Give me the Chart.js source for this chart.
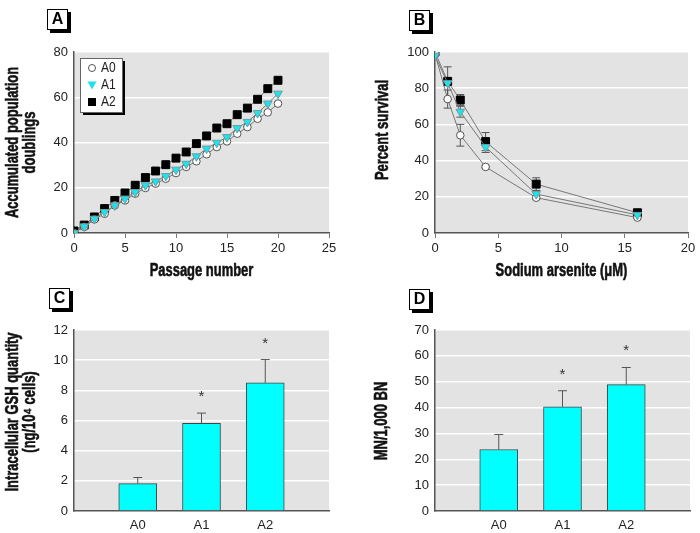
<!DOCTYPE html>
<html>
<head>
<meta charset="utf-8">
<script src="https://cdn.jsdelivr.net/npm/chart.js@4.4.0/dist/chart.umd.min.js"></script>
<style>
  body { margin: 0; background: #fff; width: 700px; height: 533px; position: relative; overflow: hidden; }
  .pane { position: absolute; }
  .tag {
    position: absolute; width: 19px; height: 19px; border: 1px solid #000;
    box-shadow: 3px 3px 0 #000; background: #fff; text-align: center; line-height: 19px;
    font: bold 16px "Liberation Sans", sans-serif;
  }
</style>
</head>
<body>
<canvas id="chartA" class="pane" width="350" height="285" style="left:0;top:0"></canvas>
<canvas id="chartB" class="pane" width="350" height="285" style="left:350px;top:0"></canvas>
<canvas id="chartC" class="pane" width="350" height="253" style="left:0;top:280px"></canvas>
<canvas id="chartD" class="pane" width="350" height="253" style="left:350px;top:280px"></canvas>
<div class="tag" style="left:47px;top:9px">A</div>
<div class="tag" style="left:409px;top:10px">B</div>
<div class="tag" style="left:49px;top:288px">C</div>
<div class="tag" style="left:409px;top:289px">D</div>

<script>
// panel A: population doublings per passage
const passages = [0, 1, 2, 3, 4, 5, 6, 7, 8, 9, 10, 11, 12, 13, 14, 15, 16, 17, 18, 19, 20];
const growthA0 = [0, 2.7, 6.0, 8.5, 12.2, 14.4, 17.4, 19.9, 21.8, 24.0, 26.5, 29.2, 31.7, 34.8, 38.0, 40.5, 43.9, 46.8, 50.5, 53.3, 57.2];
const growthA1 = [0, 2.9, 6.3, 9.3, 12.2, 15.2, 18.1, 21.1, 22.8, 25.2, 28.0, 30.6, 33.9, 37.3, 39.9, 42.4, 46.4, 49.1, 53.0, 57.2, 61.6];
const growthA2 = [0.9, 3.5, 7.1, 10.8, 14.4, 17.7, 21.1, 24.5, 27.4, 30.2, 33.1, 35.8, 39.5, 42.9, 46.4, 48.3, 52.3, 55.2, 59.1, 63.8, 67.5];

// panel B: survival vs sodium arsenite
const doses = [0, 1, 2, 4, 8, 16];
const survA0 = [99, 74, 54, 36.5, 19.5, 8.5];
const survA1 = [98, 82.8, 67, 47.5, 21.5, 10];
const survA2 = [100, 83.8, 73.5, 50.5, 27, 11.2];
const survErrA0 = [0, 5, 6, 0.5, 1, 0.5];
const survErrA1 = [0, 9, 3, 3, 2, 0.5];
const survErrA2 = [0, 2, 3, 5, 3.5, 1];

// panels C and D: bars per cell line
const lines = ['A0', 'A1', 'A2'];
const gsh = [1.82, 5.82, 8.49];
const gshErr = [0.4, 0.67, 1.55];
const mn = [23.8, 40.3, 48.9];
const mnErr = [5.8, 6.2, 6.6];
const significant = [false, true, true];

const FONT = '"Liberation Sans", Arial, sans-serif';
const TICK_FONT = { family: FONT, size: 13 };

Chart.defaults.color = '#222';
Chart.defaults.font.family = FONT;

const plotBg = {
  id: 'plotBg',
  beforeDraw(chart) {
    const { ctx, chartArea: a } = chart;
    ctx.save();
    ctx.fillStyle = '#e3e3e3';
    ctx.fillRect(a.left, a.top, a.right - a.left, a.bottom - a.top);
    ctx.restore();
  }
};
Chart.register(plotBg);

// axis titles squeezed horizontally to mimic the condensed bold face
function condText(ctx, text) {
  ctx.scale(0.72, 1);
  ctx.strokeText(text, 0, 0);
  ctx.fillText(text, 0, 0);
}

const condTitles = {
  id: 'condTitles',
  afterDraw(chart, args, opts) {
    const ctx = chart.ctx, a = chart.chartArea;
    ctx.save();
    ctx.fillStyle = '#111';
    ctx.strokeStyle = '#111';
    ctx.lineWidth = 0.6;
    ctx.font = 'bold 18px ' + FONT;
    ctx.textAlign = 'center';
    ctx.textBaseline = 'middle';
    if (opts.x) {
      ctx.save();
      ctx.translate((a.left + a.right) / 2, opts.xY);
      condText(ctx, opts.x);
      ctx.restore();
    }
    if (opts.y) {
      const cy = opts.yC || (a.top + a.bottom) / 2;
      opts.y.forEach((line, i) => {
        ctx.save();
        ctx.translate(opts.yX[i], cy);
        ctx.rotate(-Math.PI / 2);
        condText(ctx, line);
        ctx.restore();
      });
    }
    ctx.restore();
  }
};
Chart.register(condTitles);

function drawErr(chart, opts) {
  const ctx = chart.ctx, y = chart.scales.y;
  const cap = opts.cap || 4;
  ctx.save();
  ctx.strokeStyle = '#555';
  ctx.lineWidth = 1;
  ctx.fillStyle = '#333';
  ctx.font = '15px ' + FONT;
  ctx.textAlign = 'center';
  opts.errors.forEach((errs, di) => {
    const meta = chart.getDatasetMeta(di);
    const vals = chart.data.datasets[di].data;
    meta.data.forEach((el, i) => {
      let v = vals[i];
      if (v && typeof v === 'object') v = v.y;
      const e = errs[i];
      if (v == null || !e) return;
      const top = y.getPixelForValue(v + e);
      const bot = opts.upOnly ? y.getPixelForValue(v) : y.getPixelForValue(v - e);
      ctx.beginPath();
      ctx.moveTo(el.x, bot); ctx.lineTo(el.x, top);
      ctx.moveTo(el.x - cap, top); ctx.lineTo(el.x + cap, top);
      if (!opts.upOnly) { ctx.moveTo(el.x - cap, bot); ctx.lineTo(el.x + cap, bot); }
      ctx.stroke();
      if (opts.stars && opts.stars[i]) ctx.fillText('*', el.x, top - 12);
    });
  });
  ctx.restore();
}

const errorBars = {
  id: 'errorBars',
  beforeDatasetsDraw(chart, args, opts) { if (opts.behind) drawErr(chart, opts); },
  afterDatasetsDraw(chart, args, opts) { if (!opts.behind) drawErr(chart, opts); }
};

// legend box drawn inside panel A
const insetLegend = {
  id: 'insetLegend',
  afterDraw(chart) {
    const ctx = chart.ctx, a = chart.chartArea;
    const x = a.left + 6, y = a.top + 6, w = 42, h = 54;
    ctx.save();
    ctx.fillStyle = '#000';
    ctx.fillRect(x + 3, y + 3, w, h);
    ctx.fillStyle = '#fff';
    ctx.fillRect(x, y, w, h);
    ctx.strokeStyle = '#666';
    ctx.lineWidth = 1;
    ctx.strokeRect(x + 0.5, y + 0.5, w, h);
    ctx.font = '15px ' + FONT;
    ctx.textBaseline = 'middle';
    const rows = [y + 10, y + 27, y + 44];
    const mx = x + 12;
    // A0 circle
    ctx.beginPath(); ctx.arc(mx, rows[0], 3.5, 0, Math.PI * 2);
    ctx.fillStyle = '#fff'; ctx.fill(); ctx.strokeStyle = '#555'; ctx.stroke();
    // A1 triangle (down)
    ctx.beginPath(); ctx.moveTo(mx - 4.5, rows[1] - 3.5); ctx.lineTo(mx + 4.5, rows[1] - 3.5); ctx.lineTo(mx, rows[1] + 4.5); ctx.closePath();
    ctx.fillStyle = '#1ee3ec'; ctx.fill();
    // A2 square
    ctx.fillStyle = '#000'; ctx.fillRect(mx - 4, rows[2] - 4, 8, 8);
    ctx.fillStyle = '#222';
    ctx.save(); ctx.translate(x + 21, 0); ctx.scale(0.8, 1);
    ctx.fillText('A0', 0, rows[0]);
    ctx.fillText('A1', 0, rows[1]);
    ctx.fillText('A2', 0, rows[2]);
    ctx.restore();
    ctx.restore();
  }
};

function seriesStyle(kind) {
  if (kind === 'A0') return { pointStyle: 'circle', pointRadius: 3.8, pointBackgroundColor: '#fff', pointBorderColor: '#555', order: 1 };
  if (kind === 'A1') return { pointStyle: 'triangle', pointRotation: 180, pointRadius: 5, pointBackgroundColor: '#1ee3ec', pointBorderColor: '#6a9fa3', order: 0 };
  return { pointStyle: 'rect', pointRadius: 5.6, pointBackgroundColor: '#000', pointBorderColor: '#000', order: 2 };
}

function lineSet(label, xs, ys) {
  return Object.assign({
    label: label,
    data: xs.map((x, i) => ({ x: x, y: ys[i] })),
    borderColor: '#777',
    borderWidth: 1,
    pointBorderWidth: 1,
    tension: 0
  }, seriesStyle(label));
}

function yAxis(max, step, width) {
  return {
    min: 0, max: max,
    ticks: { stepSize: step, font: TICK_FONT, color: '#222', padding: 6 },
    grid: { color: '#fff', lineWidth: 1.5, drawTicks: false },
    border: { color: '#555', width: 1.5 },
    afterFit: s => { s.width = width; }
  };
}

function xLinear(max, step) {
  return {
    type: 'linear', min: 0, max: max,
    ticks: { stepSize: step, font: TICK_FONT, color: '#222', padding: 3 },
    grid: { drawOnChartArea: false, drawTicks: true, tickLength: 5, color: '#777' },
    border: { color: '#555', width: 1.5 },
    afterFit: s => { s.height = 52; }
  };
}

const common = {
  responsive: false,
  animation: false
};
const basePlugins = { legend: { display: false }, tooltip: { enabled: false } };

new Chart(document.getElementById('chartA'), {
  type: 'line',
  data: { datasets: [lineSet('A0', passages, growthA0), lineSet('A1', passages, growthA1), lineSet('A2', passages, growthA2)] },
  options: Object.assign({}, common, {
    layout: { padding: { top: 52, right: 21, left: 0, bottom: 0 } },
    scales: { x: xLinear(25, 5), y: yAxis(80, 20, 74) },
    plugins: Object.assign({}, basePlugins, {
      condTitles: { x: 'Passage number', xY: 271, y: ['Accumulated population', 'doublings'], yX: [13, 30] }
    })
  }),
  plugins: [insetLegend]
});

new Chart(document.getElementById('chartB'), {
  type: 'line',
  data: { datasets: [lineSet('A0', doses, survA0), lineSet('A1', doses, survA1), lineSet('A2', doses, survA2)] },
  options: Object.assign({}, common, {
    layout: { padding: { top: 52, right: 12, left: 0, bottom: 0 } },
    scales: { x: xLinear(20, 5), y: yAxis(100, 20, 85) },
    plugins: Object.assign({}, basePlugins, {
      errorBars: { errors: [survErrA0, survErrA1, survErrA2], behind: true, cap: 4 },
      condTitles: { x: 'Sodium arsenite (\u03bcM)', xY: 271, y: ['Percent survival'], yX: [33], yC: 130 }
    })
  }),
  plugins: [errorBars]
});

function pad(arr) { return [null].concat(arr, [null]); }

function barChart(id, values, errs, max, step, yTitle, yX, yC, yWidth, padRight) {
  new Chart(document.getElementById(id), {
    type: 'bar',
    data: {
      labels: pad(lines).map(l => l || ''),
      datasets: [{
        data: pad(values),
        backgroundColor: '#00ffff',
        borderColor: '#444',
        borderWidth: 1,
        borderSkipped: 'bottom',
        barThickness: 38
      }]
    },
    options: Object.assign({}, common, {
      layout: { padding: { top: 50, right: padRight, left: 0, bottom: 0 } },
      scales: {
        x: {
          offset: false,
          ticks: { font: TICK_FONT, color: '#222', padding: 7, autoSkip: false, maxRotation: 0 },
          grid: { display: false, drawTicks: false },
          border: { color: '#555', width: 1.5 },
          afterFit: s => { s.height = 22; }
        },
        y: yAxis(max, step, yWidth)
      },
      plugins: Object.assign({}, basePlugins, {
        errorBars: { errors: [pad(errs)], upOnly: true, cap: 4.5, stars: pad(significant) },
        condTitles: { y: yTitle, yX: yX, yC: yC }
      })
    }),
    plugins: [errorBars]
  });
}

barChart('chartC', gsh, gshErr, 12, 2, ['Intracellular GSH quantity', '(ng/10\u2074 cells)'], [13, 30], 132, 74, 21);
barChart('chartD', mn, mnErr, 70, 10, ['MN/1,000 BN'], [32], 141, 85, 10);
</script>
</body>
</html>
